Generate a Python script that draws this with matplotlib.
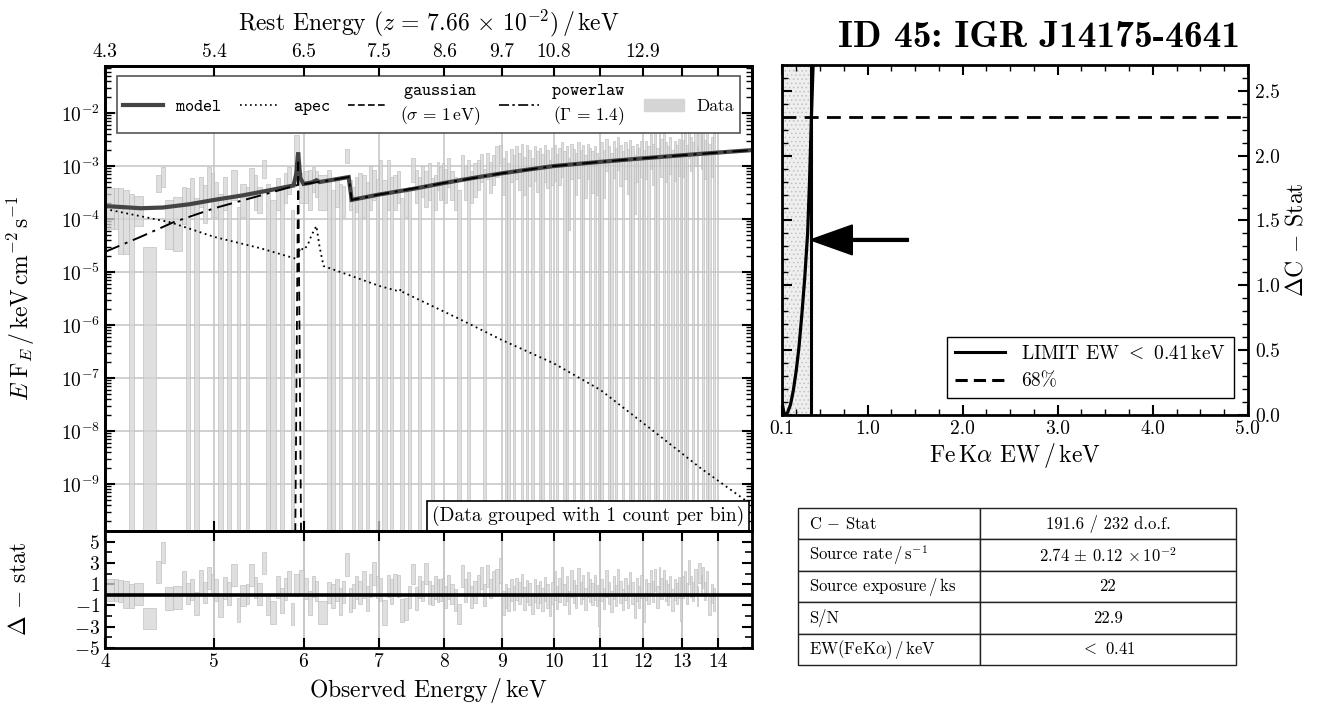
import numpy as np
import matplotlib
matplotlib.use('Agg')
import matplotlib.pyplot as plt
from matplotlib.lines import Line2D
from matplotlib.patches import Patch
from matplotlib.ticker import FixedLocator, FixedFormatter, NullLocator, LogLocator, MultipleLocator

plt.rcParams['font.family'] = 'serif'
plt.rcParams['font.serif'] = ['cmr10']
plt.rcParams['mathtext.fontset'] = 'cm'
plt.rcParams['axes.unicode_minus'] = False
plt.rcParams['axes.formatter.use_mathtext'] = True
plt.rcParams['hatch.linewidth'] = 0.6

# ---- spectrum data (bin edges in keV, log10 flux range, residual range) ----
bin_edges = [
    4.00, 4.07, 4.11, 4.15, 4.20, 4.24, 4.32, 4.44, 4.48, 4.52, 4.60, 4.68, 4.72, 4.76, 4.80, 4.85, 4.89, 4.93, 4.97,
    5.00, 5.04, 5.09, 5.13, 5.17, 5.24, 5.27, 5.33, 5.37, 5.42, 5.46, 5.51, 5.56, 5.60, 5.67, 5.72, 5.76, 5.80, 5.85, 5.89, 5.94,
    6.00, 6.05, 6.10, 6.14, 6.18, 6.30, 6.35, 6.40, 6.45, 6.49, 6.53, 6.58, 6.62, 6.67, 6.71, 6.76, 6.81, 6.86, 6.90, 6.96,
    7.00, 7.05, 7.11, 7.16, 7.21, 7.26, 7.31, 7.37, 7.43, 7.48, 7.53, 7.58, 7.63, 7.68, 7.73, 7.78, 7.83, 7.88, 7.92, 7.96,
    8.00, 8.05, 8.10, 8.16, 8.21, 8.27, 8.32, 8.38, 8.43, 8.49, 8.55, 8.60, 8.66, 8.71, 8.77, 8.82, 8.88, 8.94,
    9.00, 9.05, 9.10, 9.15, 9.20, 9.25, 9.30, 9.35, 9.40, 9.45, 9.50, 9.55, 9.60, 9.65, 9.70, 9.75, 9.80, 9.85, 9.90, 9.95,
    10.00, 10.05, 10.10, 10.15, 10.20, 10.25, 10.30, 10.35, 10.40, 10.45, 10.50, 10.55, 10.60, 10.65, 10.70, 10.75, 10.80, 10.85, 10.90, 10.95,
    11.00, 11.06, 11.11, 11.17, 11.22, 11.28, 11.33, 11.39, 11.44, 11.50, 11.55, 11.61, 11.66, 11.72, 11.78, 11.83, 11.89, 11.94,
    12.00, 12.06, 12.11, 12.17, 12.22, 12.28, 12.33, 12.39, 12.44, 12.50, 12.55, 12.61, 12.66, 12.72, 12.78, 12.83, 12.89, 12.94,
    13.00, 13.06, 13.11, 13.17, 13.22, 13.28, 13.33, 13.39, 13.44, 13.50, 13.55, 13.61, 13.66, 13.72, 13.78, 13.84, 13.90]

flux_top_log = [
    -3.41, -3.41, -3.42, -3.45, -3.52, -3.57, -4.53, -3.17, -3.01, -3.64, -3.58, -3.39, -3.42, -3.23, -3.61, -3.20, -3.36, -3.01, -3.14,
    -3.30, -3.52, -3.20, -3.58, -3.08, -3.77, -3.33, -3.39, -3.03, -3.17, -3.39, -2.89, -3.33, -3.64, -3.23, -3.45, -3.14, -3.01, -3.83, -2.42, -3.14,
    -3.10, -3.07, -3.01, -3.10, -3.17, -3.08, -3.45, -3.20, -3.33, -3.38, -2.67, -3.26, -3.39, -3.20, -3.14, -3.17, -3.30, -3.00, -3.08, -3.25,
    -2.89, -3.26, -2.89, -3.20, -3.17, -3.10, -3.61, -3.48, -3.40, -2.85, -3.08, -3.20, -3.00, -3.10, -2.95, -3.23, -3.17, -2.92, -3.01, -2.95,
    -3.05, -2.85, -3.10, -3.20, -3.45, -2.80, -3.00, -2.88, -3.10, -2.95, -2.88, -2.78, -3.05, -2.75, -2.92, -2.80, -2.62, -2.60,
    -2.85, -2.72, -2.95, -2.68, -2.80, -2.62, -2.75, -2.58, -2.82, -2.60, -2.70, -2.85, -2.62, -2.72, -2.66, -2.78, -2.60, -2.70, -2.88, -2.65,
    -2.60, -2.78, -2.65, -2.55, -2.72, -2.62, -2.85, -2.58, -2.68, -2.75, -2.55, -2.70, -2.60, -2.80, -2.58, -2.66, -2.72, -2.62, -2.76, -2.85,
    -2.55, -2.70, -2.48, -2.62, -2.75, -2.52, -2.66, -2.45, -2.60, -2.72, -2.55, -2.68, -2.50, -2.63, -2.80, -2.58, -2.66, -2.52,
    -2.70, -2.52, -2.62, -2.40, -2.58, -2.35, -2.66, -2.30, -2.48, -2.38, -2.55, -2.62, -2.45, -2.70, -2.52, -2.60, -2.48, -2.75,
    -2.50, -2.38, -2.60, -2.25, -2.45, -2.55, -2.35, -2.62, -2.20, -2.42, -2.28, -2.50, -2.36, -2.58, -2.45, -2.30]

# None = error bar reaches zero flux (drawn to the bottom of the panel)
flux_bot_log = [
    -4.19, -4.19, -4.65, -4.65, None, -4.14, None, -3.48, -3.39, -4.57, -4.60, -4.10, None, -3.89, None, -3.77, -4.08, -3.64, -3.96,
    -3.96, None, -3.83, None, -3.64, None, -3.96, None, -3.58, -3.83, -3.89, -3.23, None, None, -3.83, None, -3.70, -3.52, None, -3.01, -3.70,
    -3.70, -3.83, -3.48, -3.58, -3.83, None, None, -3.77, None, -3.96, -2.95, -3.83, None, -3.86, None, -3.96, None, -3.83, -3.64, None,
    -3.48, None, -3.83, None, -3.83, -3.70, None, -3.96, None, -3.30, -3.70, None, -3.58, -3.77, -3.64, None, -3.83, -3.45, -3.64, -3.60,
    -3.70, -3.40, -3.64, -3.83, None, -3.25, -3.64, None, -3.70, -3.58, -3.45, -3.30, None, -3.25, -3.50, -3.36, -3.20, -2.95,
    -3.55, None, None, -3.30, None, -3.25, -3.45, None, -3.55, None, -3.38, None, -3.28, -3.48, None, None, -3.30, -3.42, None, -3.35,
    -3.28, None, -3.35, -3.20, None, None, -4.20, -3.25, None, -3.55, -3.22, None, None, -3.60, -3.25, None, -3.50, None, -3.55, None,
    None, -3.60, -3.10, None, None, -3.22, None, -3.08, -3.38, None, -3.25, -3.52, None, None, -3.90, -3.30, None, -3.20,
    None, -3.25, None, -3.05, -3.35, None, None, -2.95, -3.20, None, -3.30, None, -3.15, None, -3.28, None, -3.18, None,
    -3.20, None, None, -2.85, -3.10, None, -3.00, None, -2.80, -3.05, None, -3.25, None, None, -3.20, None]

resid_lo = [
    -0.6, -0.6, -0.7, -1.2, -1.2, -1.0, -3.2, 1.1, 3.0, -1.4, -1.3, 0.2, -0.9, -0.5, -1.9, 0.2, -0.8, 0.5, 0.0,
    -0.6, -2.1, -0.4, -1.0, 0.8, -2.6, -1.1, -0.9, 0.8, -0.3, -1.0, 2.0, -1.9, -2.7, -0.3, -1.7, -0.5, 0.2, -2.8, -0.1, 0.2,
    -0.4, -1.9, -0.2, -0.6, -2.7, -0.8, -1.2, -0.6, -1.9, -0.8, 1.8, -1.6, -1.2, -0.4, -0.9, -0.3, -1.5, -0.2, 0.9, -0.3,
    -0.6, -2.8, -0.2, -0.9, -0.1, -0.2, -2.6, -2.4, -1.2, 1.0, -1.4, -0.3, -0.6, 1.0, -0.9, -1.0, -0.4, -0.7, -0.6, -0.3,
    -1.2, -0.4, -0.9, -1.5, -2.7, 0.7, -0.7, 0.0, -1.2, -0.8, 0.0, 0.5, -1.1, 0.7, -0.3, 0.2, 0.0, 1.1,
    -1.9, -1.2, -1.5, -0.6, -1.4, -0.5, -0.9, -0.2, -1.4, -0.7, -1.0, -1.8, -0.7, -1.2, -0.8, -1.5, -0.6, -1.2, -2.0, -0.9,
    -0.5, -1.3, -0.7, 0.0, -1.0, -0.6, -1.8, -0.2, -0.8, -1.2, 0.1, -0.9, -0.4, -1.4, -0.2, -0.7, -1.0, -0.5, -1.1, -2.9,
    -0.6, -1.3, -0.2, -0.9, -1.6, -0.4, -1.1, 0.1, -0.8, -1.4, -0.5, -1.2, -0.1, -0.9, -2.2, -0.6, -1.2, -0.3,
    -2.6, -0.5, -0.9, 0.2, -0.7, 0.4, -1.2, 0.5, -0.4, 0.3, -0.6, -1.0, -0.2, -1.5, -0.5, -0.9, -0.3, -2.5,
    -0.3, 0.2, -0.9, 1.0, -0.2, -0.6, 0.2, -1.1, 1.1, -0.1, 0.6, -0.5, 0.2, -1.9, -0.8, -1.5]

resid_hi = [
    1.5, 1.5, 1.4, 1.3, 1.0, 1.1, -1.2, 3.2, 5.0, 0.7, 0.8, 2.2, 1.1, 1.5, 0.3, 2.3, 1.2, 2.6, 2.0,
    1.5, 0.0, 1.7, 1.2, 2.9, -0.3, 0.9, 1.0, 2.9, 1.7, 1.1, 4.0, 0.1, -0.6, 1.8, 0.6, 1.6, 2.2, -0.8, 2.0, 2.3,
    1.6, 0.4, 1.8, 1.3, -0.6, 1.2, 1.0, 1.5, 0.6, 1.3, 3.9, 0.6, 1.0, 1.8, 1.3, 2.2, 0.8, 2.0, 3.1, 1.8,
    1.6, -0.5, 1.9, 1.5, 2.0, 1.9, -0.4, -0.3, 0.8, 2.9, 0.7, 1.8, 1.3, 3.0, 1.3, 0.9, 1.8, 1.5, 1.5, 1.6,
    0.8, 1.9, 1.0, 0.5, -0.9, 2.8, 1.5, 2.1, 0.8, 1.3, 1.9, 2.6, 1.0, 2.8, 1.5, 2.2, 2.4, 3.5,
    0.4, 1.0, 0.6, 1.5, 0.8, 1.6, 1.2, 2.0, 0.7, 1.4, 1.1, 0.2, 1.5, 0.9, 1.3, 0.6, 1.7, 1.0, 0.1, 1.2,
    2.2, 0.8, 1.6, 2.6, 1.0, 1.8, 0.4, 2.3, 1.4, 0.9, 2.5, 1.2, 1.9, 0.6, 2.1, 1.5, 1.1, 1.9, 0.9, -0.5,
    1.5, 0.6, 2.3, 1.2, 0.4, 1.8, 0.9, 2.4, 1.3, 0.5, 1.6, 0.9, 2.1, 1.2, -0.1, 1.6, 0.8, 1.9,
    -0.2, 1.5, 1.1, 2.3, 1.3, 2.4, 0.8, 2.6, 1.6, 2.3, 1.4, 1.0, 1.8, 0.5, 1.5, 1.1, 1.7, -0.3,
    1.8, 2.2, 1.1, 3.3, 1.8, 1.2, 2.4, 0.8, 3.0, 1.9, 2.6, 1.2, 2.2, 0.0, 1.0, 0.6]

# ---- model components ----
model_e = [4.0, 4.15, 4.3, 4.5, 4.75, 5.0, 5.3, 5.6, 5.88, 5.91, 5.935, 5.96, 6.0, 6.1, 6.16, 6.2, 6.4, 6.58,
           6.62, 7.0, 7.5, 8.0, 8.5, 9.0, 9.5, 10.0, 11.0, 12.0, 13.0, 14.0, 15.0]
model_f = [1.76e-4, 1.68e-4, 1.6e-4, 1.65e-4, 1.9e-4, 2.3e-4, 2.8e-4, 3.5e-4, 4.3e-4, 7e-4, 1.8e-3, 6e-4, 4.6e-4,
           4.9e-4, 5.4e-4, 5.0e-4, 5.6e-4, 6.2e-4,
           2.3e-4, 2.9e-4, 3.7e-4, 4.8e-4, 6.0e-4, 7.3e-4, 8.6e-4, 1.0e-3, 1.2e-3, 1.4e-3, 1.6e-3, 1.8e-3, 2.0e-3]

apec_e = [4.0, 4.57, 5.0, 5.5, 5.9, 5.93, 5.96, 6.0, 6.05, 6.1, 6.16, 6.2, 6.25, 7.0, 7.3, 7.32, 7.35,
          8.22, 9.0, 10.0, 11.0, 12.3, 13.5, 15.0]
apec_f = [1.55e-4, 8.7e-5, 4.6e-5, 2.8e-5, 1.8e-5, 1.9e-5, 2.9e-5, 2.6e-5, 3.2e-5, 5e-5, 7.4e-5, 3e-5, 1.3e-5,
          5.5e-6, 4.3e-6, 4.8e-6, 4.2e-6, 1.35e-6, 5.2e-7, 1.9e-7, 6e-8, 9.5e-9, 2e-9, 4e-10]

gauss_e = [5.895, 5.935, 5.975]
gauss_f = [1e-11, 1.35e-3, 1e-11]

pl_e = [4.0, 4.3, 4.6, 5.0, 5.5, 5.93, 6.3, 6.58, 6.62, 7.0, 8.0, 9.0, 10.0, 11.0, 12.0, 13.0, 14.0, 15.0]
pl_f = [2.4e-5, 4.6e-5, 8.7e-5, 1.6e-4, 2.8e-4, 4.4e-4, 5.3e-4, 6.2e-4, 2.3e-4, 2.9e-4, 4.8e-4, 7.3e-4,
        1.0e-3, 1.2e-3, 1.4e-3, 1.6e-3, 1.8e-3, 2.0e-3]

obs_ticks = [4, 5, 6, 7, 8, 9, 10, 11, 12, 13, 14]
obs_labels = ['4', '5', '6', '7', '8', '9', '10', '11', '12', '13', '14']
rest_labels = ['4.3', '5.4', '6.5', '7.5', '8.6', '9.7', '10.8', '', '12.9', '', '']

# ---- C-stat scan over Fe K alpha EW ----
ew_grid = [0.10, 0.12, 0.14, 0.16, 0.19, 0.22, 0.25, 0.28, 0.31, 0.34, 0.37, 0.39, 0.41, 0.43, 0.45]
delta_c = [0.10, 0.02, 0.00, 0.02, 0.08, 0.19, 0.34, 0.53, 0.78, 1.06, 1.40, 1.80, 2.30, 2.75, 3.10]
ew_limit = 0.41
dc_68 = 2.3
dc_ticks = [0.0, 0.5, 1.0, 1.5, 2.0, 2.5]
dc_labels = ['0.0', '0.5', '1.0', '1.5', '2.0', '2.5']

table_names = ['C $-$ Stat', 'Source rate$\\,/\\,$s$^{-1}$', 'Source exposure$\\,/\\,$ks', 'S/N',
               'EW(FeK$\\alpha$)$\\,/\\,$keV']
table_values = ['191.6 / 232 d.o.f.', '2.74$\\,\\pm\\,$0.12 $\\times\\,10^{-2}$', '22', '22.9', '$<$ 0.41']

fig = plt.figure(figsize=(13.26, 7.13), dpi=100)
ax = fig.add_axes([0.0792, 0.2553, 0.488, 0.652])
axr = fig.add_axes([0.0792, 0.0912, 0.488, 0.1641], sharex=ax)

lefts = np.array(bin_edges[:-1])
widths = np.diff(bin_edges)
tops = 10 ** np.array(flux_top_log)
bots = np.array([10 ** b if b is not None else 1e-12 for b in flux_bot_log])
bar_kw = dict(align='edge', color='#d5d5d5', alpha=0.75, edgecolor='#bcbcbc', linewidth=0.6, zorder=2)
ax.bar(lefts, tops - bots, width=widths, bottom=bots, **bar_kw)

ax.plot(model_e, model_f, color='#444444', lw=3, zorder=3, solid_joinstyle='miter')
ax.plot(apec_e, apec_f, color='k', lw=1.3, ls=(0, (1, 2)), zorder=4)
ax.plot(gauss_e, gauss_f, color='k', lw=1.3, ls=(0, (5, 3)), zorder=4)
ax.plot(pl_e, pl_f, color='k', lw=1.4, ls=(0, (8, 3, 1.5, 3)), zorder=4)

ax.set_xscale('log')
ax.set_yscale('log')
ax.set_xlim(4, 15)
ax.set_ylim(1.3e-10, 0.077)
ax.xaxis.set_major_locator(FixedLocator(obs_ticks))
ax.xaxis.set_major_formatter(FixedFormatter(obs_labels))
ax.xaxis.set_minor_locator(NullLocator())
ax.set_yticks([1e-9, 1e-8, 1e-7, 1e-6, 1e-5, 1e-4, 1e-3, 1e-2])
ax.set_yticklabels(['$10^{-9}$', '$10^{-8}$', '$10^{-7}$', '$10^{-6}$', '$10^{-5}$', '$10^{-4}$',
                    '$10^{-3}$', '$10^{-2}$'])
ax.yaxis.set_minor_locator(LogLocator(base=10, subs=np.arange(2, 10), numticks=100))
ax.grid(True, which='major', color='#c4c4c4', lw=1.1, zorder=0)
ax.tick_params(axis='both', which='both', direction='in', right=True, top=False, labelbottom=False,
               labelsize=14)
ax.tick_params(which='major', length=7, width=1.5)
ax.tick_params(which='minor', length=4, width=1)
ax.set_ylabel(r'$E\;\mathrm{F}_E\,/\,\mathrm{keV\,cm^{-2}\,s^{-1}}$', fontsize=17)
ax.yaxis.set_label_coords(-0.105, 0.5)

handles = [Line2D([], [], color='#444444', lw=3),
           Line2D([], [], color='k', lw=1.2, ls=(0, (1, 2))),
           Line2D([], [], color='k', lw=1.2, ls=(0, (4, 2))),
           Line2D([], [], color='k', lw=1.2, ls=(0, (6, 2, 1.5, 2))),
           Patch(facecolor='#d5d5d5', edgecolor='#d5d5d5')]
labels = ['$\\mathtt{model}$', '$\\mathtt{apec}$', '$\\mathtt{gaussian}$\n$(\\sigma\\,=\\,1\\,\\mathrm{eV})$',
          '$\\mathtt{powerlaw}$\n$(\\Gamma\\,=\\,1.4)$', 'Data']
leg = ax.legend(handles, labels, ncol=5, loc='upper left', bbox_to_anchor=(0.019, 0.978, 0.962, 0.0),
                mode='expand', fontsize=12.5, handlelength=2.3, columnspacing=0.8, handletextpad=0.7,
                frameon=True, fancybox=False, edgecolor='#555555', framealpha=1, borderpad=0.35,
                borderaxespad=0.0)
leg.get_frame().set_linewidth(1.2)
for t in leg.get_texts():
    t.set_multialignment('center')

ax.text(0.988, 0.01, '(Data grouped with 1 count per bin)', transform=ax.transAxes, ha='right', va='bottom',
        fontsize=14, zorder=6,
        bbox=dict(boxstyle='square,pad=0.25', facecolor='white', edgecolor='k', lw=1.2))

axt = ax.twiny()
axt.set_xscale('log')
axt.set_xlim(4, 15)
axt.xaxis.set_major_locator(FixedLocator(obs_ticks))
axt.xaxis.set_major_formatter(FixedFormatter(rest_labels))
axt.xaxis.set_minor_locator(NullLocator())
axt.tick_params(axis='x', direction='in', length=7, width=1.5, labelsize=14)
axt.set_xlabel(r'Rest Energy $(z\,=\,7.66\,\times\,10^{-2})\,/\,$keV', fontsize=17, labelpad=9)

# residual panel
axr.bar(lefts, np.array(resid_hi) - np.array(resid_lo), width=widths, bottom=resid_lo, **bar_kw)
axr.axhline(0, color='k', lw=2.6, zorder=5)
axr.set_ylim(-5, 6)
axr.yaxis.set_major_locator(FixedLocator([-5, -3, -1, 1, 3, 5]))
axr.yaxis.set_minor_locator(FixedLocator([-4, -2, 0, 2, 4]))
axr.grid(True, axis='x', color='#b8b8b8', lw=1.1, zorder=0)
axr.tick_params(axis='both', which='both', direction='in', right=True, top=True, labelsize=14)
axr.tick_params(which='major', length=7, width=1.5)
axr.tick_params(which='minor', length=5, width=1.2)
axr.set_xlabel('Observed Energy$\\,/\\,$keV', fontsize=17)
axr.set_ylabel('$\\Delta$ $-$ stat', fontsize=17)
axr.yaxis.set_label_coords(-0.115, 0.5)

for a in (ax, axr, axt):
    for s in a.spines.values():
        s.set_linewidth(2)

# right panel: Delta C-stat scan
ax2 = fig.add_axes([0.5897, 0.418, 0.3514, 0.491])
ax2.axvspan(0.1, 0.39, facecolor='#efefef', edgecolor='#c2c2c2', hatch='....', lw=0, zorder=1)
ax2.plot(ew_grid, delta_c, color='k', lw=2.3, zorder=3)
ax2.axvline(ew_limit, color='k', lw=2.2, zorder=3)
ax2.axhline(dc_68, color='k', lw=2, ls=(0, (5, 3)), zorder=3)
ax2.arrow(1.43, 1.35, -1.03, 0, width=0.022, head_width=0.23, head_length=0.44,
          length_includes_head=True, fc='k', ec='k', zorder=5)
ax2.set_xlim(0.1, 5.0)
ax2.set_ylim(0, 2.7)
ax2.set_xticks([0.1, 1.0, 2.0, 3.0, 4.0, 5.0])
ax2.set_xticklabels(['0.1', '1.0', '2.0', '3.0', '4.0', '5.0'])
ax2.xaxis.set_minor_locator(MultipleLocator(0.25))
ax2.set_yticks(dc_ticks)
ax2.set_yticklabels(dc_labels)
ax2.yaxis.set_minor_locator(MultipleLocator(0.1))
ax2.yaxis.tick_right()
ax2.yaxis.set_label_position('right')
ax2.tick_params(axis='both', which='both', direction='in', left=True, right=True, top=True, labelsize=14)
ax2.tick_params(which='major', length=7, width=1.5)
ax2.tick_params(which='minor', length=4, width=1)
ax2.tick_params(axis='y', pad=5)
for s in ax2.spines.values():
    s.set_linewidth(2)
ax2.set_xlabel('Fe$\\,$K$\\alpha$ EW$\\,/\\,$keV', fontsize=17, labelpad=2)
ax2.set_ylabel('$\\Delta$C $-$ Stat', fontsize=17, labelpad=4)
leg2 = ax2.legend([Line2D([], [], color='k', lw=2.2), Line2D([], [], color='k', lw=2.2, ls=(0, (4, 2)))],
                  ['LIMIT EW $<$ 0.41$\\,$keV', '68%'], loc='lower right', bbox_to_anchor=(0.99, 0.02),
                  fontsize=14, handlelength=2.6, frameon=True, fancybox=False, edgecolor='k', framealpha=1)
leg2.get_frame().set_linewidth(1)

fig.text(0.7836, 0.948, 'ID 45: IGR J14175-4641', fontfamily='cmb10', fontsize=27, ha='center', va='center')

# info table
axt2 = fig.add_axes([0.6018, 0.0673, 0.3303, 0.2202])
axt2.axis('off')
tab = axt2.table(cellText=[[n, v] for n, v in zip(table_names, table_values)], colWidths=[0.4155, 0.5845],
                 bbox=[0, 0, 1, 1], cellLoc='center')
tab.auto_set_font_size(False)
tab.set_fontsize(12)
for (r, c), cell in tab.get_celld().items():
    cell.set_linewidth(1)
    cell.set_edgecolor('#222222')
    if c == 0:
        cell.get_text().set_ha('left')
        cell.PAD = 0.06

fig.savefig('out.png', dpi=100)
